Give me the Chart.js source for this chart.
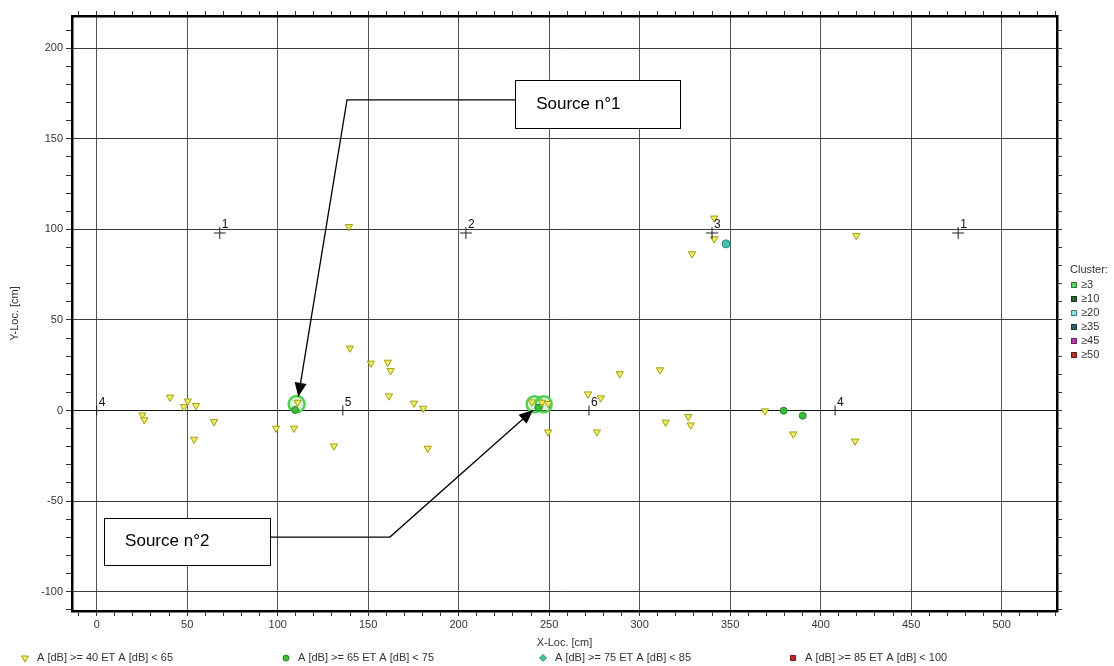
<!DOCTYPE html>
<html>
<head>
<meta charset="utf-8">
<title>Localisation - X/Y</title>
<script src="https://cdn.jsdelivr.net/npm/chart.js@4.4.1/dist/chart.umd.min.js"></script>
<style>
  html, body { margin: 0; padding: 0; background: #fff; }
  #wrap { width: 1114px; height: 666px; }
</style>
</head>
<body>
<div id="wrap"><canvas id="loc-chart" width="1114" height="666"></canvas></div>
<script>
// data //

// A [dB] >= 40 ET < 65 (triangles)
const lowX = [25.2, 26.3, 40.5, 48.2, 50.3, 54.9, 53.8, 64.8, 99.1, 109, 111, 131.1, 139.9, 139.4,
  151.5, 160.8, 162.4, 161.5, 175.3, 180.4, 182.9, 240.5, 246, 249.5, 249.4, 271.5, 278.5, 276.4,
  289, 311.2, 314.4, 326.9, 328.2, 328.9, 341.2, 341.2, 369.2, 384.9, 419.7, 419];
const lowY = [-2.5, -5.2, 7.3, 2.1, 5.2, 2.7, -15.9, -6.2, -9.8, -9.8, 4.5, -19.6, 34.4, 101.5,
  26.1, 26.6, 22.0, 8.0, 4.0, 1.2, -20.9, 4.7, 4.5, 3.8, -11.9, 9.1, 6.9, -11.9,
  20.2, 22.4, -6.5, -3.4, -8.0, 86.5, 106.2, 94.8, -0.3, -13, 96.6, -16.9];

// A [dB] >= 65 ET < 75 (green dots)
const midX = [109.6, 244, 379.6, 390.1];
const midY = [0.3, 1.5, -0.1, -2.9];

// A [dB] >= 75 ET < 85
const highX = [347.7];
const highY = [92];

// A [dB] >= 85 ET < 100 : nothing
const topX = [];
const topY = [];

// clusters (>= 3 events)
const clusterX = [110.5, 242, 247];
const clusterY = [3.6, 3.5, 3.5];

// sensors
const crossX = [68, 204, 340, 476];
const crossY = [98, 98, 98, 98];
const crossNames = ['1', '2', '3', '1'];
const barX = [0, 136, 272, 408];
const barY = [0, 0, 0, 0];
const barNames = ['4', '5', '6', '4'];

const seriesNames = ['A [dB] >= 40 ET A [dB] < 65', 'A [dB] >= 65 ET A [dB] < 75',
  'A [dB] >= 75 ET A [dB] < 85', 'A [dB] >= 85 ET A [dB] < 100'];
const clusterNames = ['\u22653', '\u226510', '\u226520', '\u226535', '\u226545', '\u226550'];

// axes
const xMin = -13.65, xMax = 530.6;
const yMin = -110.7, yMax = 217.8;
const majorStep = 50, minorStep = 10;

// callouts (data units): box [x1, y1, x2, y2], leader path, arrow tip is the last point
const callouts = [
  { text: 'Source n\u00b01', box: [231.2, 182.6, 322.3, 156.0], path: [[231.2, 171.5], [138.3, 171.5], [111.4, 7.6]] },
  { text: 'Source n\u00b02', box: [4.1, -59.4, 95.8, -85.4], path: [[95.8, -69.9], [162, -69.9], [241.1, 0.3]] }
];

const FONT = '"Liberation Sans", Arial, sans-serif';
Chart.defaults.font.family = FONT;
Chart.defaults.font.size = 11;
Chart.defaults.color = '#333';

function zip(xs, ys) {
  return xs.map((v, i) => ({ x: v, y: ys[i] }));
}

const clusterColors = [
  ['#62d062', '#2d7d2d'], ['#2f5f2f', '#1a3a1a'], ['#90e0e0', '#3a8080'],
  ['#2f5f6f', '#1a3a44'], ['#b040b0', '#702070'], ['#b03030', '#701a1a']
];

function arrowHead(ctx, fx, fy, tx, ty) {
  const a = Math.atan2(ty - fy, tx - fx);
  const len = 14, half = 6;
  ctx.beginPath();
  ctx.moveTo(tx, ty);
  ctx.lineTo(tx - len * Math.cos(a) + half * Math.sin(a), ty - len * Math.sin(a) - half * Math.cos(a));
  ctx.lineTo(tx - len * Math.cos(a) - half * Math.sin(a), ty - len * Math.sin(a) + half * Math.cos(a));
  ctx.closePath();
  ctx.fill();
}

function symbol(ctx, ds, px, py) {
  ctx.fillStyle = ds.pointBackgroundColor;
  ctx.strokeStyle = ds.pointBorderColor;
  ctx.lineWidth = 1;
  const opts = { pointStyle: ds.legendStyle || ds.pointStyle, radius: ds.legendRadius, rotation: ds.pointRotation || 0, borderWidth: 1 };
  Chart.helpers.drawPoint(ctx, opts, px, py);
}

// overlay : sensor numbers, callouts, legends //
const overlay = {
  id: 'overlay',
  afterDatasetsDraw(chart) {
    const { ctx } = chart;
    const x = chart.scales.x, y = chart.scales.y;
    ctx.save();

    ctx.font = '12px ' + FONT;
    ctx.fillStyle = '#111';
    ctx.textAlign = 'left';
    ctx.textBaseline = 'middle';
    crossX.forEach((v, i) => ctx.fillText(crossNames[i], x.getPixelForValue(v) + 2, y.getPixelForValue(crossY[i]) - 8));
    barX.forEach((v, i) => ctx.fillText(barNames[i], x.getPixelForValue(v) + 2, y.getPixelForValue(barY[i]) - 8));

    callouts.forEach(c => {
      const pts = c.path.map(p => [x.getPixelForValue(p[0]), y.getPixelForValue(p[1])]);
      ctx.strokeStyle = '#000';
      ctx.fillStyle = '#000';
      ctx.lineWidth = 1.3;
      ctx.beginPath();
      ctx.moveTo(pts[0][0], pts[0][1]);
      for (let i = 1; i < pts.length; i++) ctx.lineTo(pts[i][0], pts[i][1]);
      ctx.stroke();
      const n = pts.length;
      arrowHead(ctx, pts[n - 2][0], pts[n - 2][1], pts[n - 1][0], pts[n - 1][1]);

      const bx1 = x.getPixelForValue(c.box[0]), by1 = y.getPixelForValue(c.box[1]);
      const bx2 = x.getPixelForValue(c.box[2]), by2 = y.getPixelForValue(c.box[3]);
      ctx.fillStyle = '#fff';
      ctx.fillRect(bx1, by1, bx2 - bx1, by2 - by1);
      ctx.lineWidth = 1;
      ctx.strokeStyle = '#000';
      ctx.strokeRect(Math.round(bx1) + 0.5, Math.round(by1) + 0.5, Math.round(bx2 - bx1), Math.round(by2 - by1));
      ctx.fillStyle = '#000';
      ctx.font = '17px ' + FONT;
      ctx.fillText(c.text, bx1 + 21, (by1 + by2) / 2);
    });
    ctx.restore();
  },
  afterDraw(chart) {
    const { ctx } = chart;
    ctx.save();
    ctx.font = '11px ' + FONT;
    ctx.textAlign = 'left';
    ctx.textBaseline = 'middle';

    // bottom legend
    const slots = [25, 286, 543, 793];
    chart.data.datasets.slice(0, 4).forEach((ds, i) => {
      symbol(ctx, ds, slots[i], 658);
      ctx.fillStyle = '#333';
      ctx.fillText(ds.label, slots[i] + 12, 658);
    });

    // cluster legend
    ctx.fillStyle = '#333';
    ctx.fillText('Cluster:', 1070, 270);
    clusterNames.forEach((t, i) => {
      const cy = 285 + i * 14;
      ctx.fillStyle = clusterColors[i][0];
      ctx.fillRect(1071, cy - 3, 6, 6);
      ctx.strokeStyle = clusterColors[i][1];
      ctx.lineWidth = 1;
      ctx.strokeRect(1071.5, cy - 2.5, 5, 5);
      ctx.fillStyle = '#333';
      ctx.fillText(t, 1081, cy);
    });
    ctx.restore();
  }
};

const isMajor = v => Math.abs(v % majorStep) < 1e-6;

function axis(extra) {
  return Object.assign({
    type: 'linear',
    border: { display: true, color: '#000', width: 2.5 },
  }, extra);
}

new Chart(document.getElementById('loc-chart'), {
  type: 'scatter',
  data: {
    datasets: [
      {
        label: seriesNames[0], data: zip(lowX, lowY), order: 1,
        pointStyle: 'triangle', pointRotation: 180, pointRadius: 4.2, legendRadius: 4,
        pointBackgroundColor: '#eeee66', pointBorderColor: '#a0a010', pointBorderWidth: 1
      },
      {
        label: seriesNames[1], data: zip(midX, midY), order: 1,
        pointStyle: 'circle', pointRadius: 3.5, legendRadius: 3,
        pointBackgroundColor: '#3cba3c', pointBorderColor: '#258a25', pointBorderWidth: 1
      },
      {
        label: seriesNames[2], data: zip(highX, highY), order: 1,
        pointStyle: 'circle', legendStyle: 'rectRot', pointRadius: 4, legendRadius: 3.5,
        pointBackgroundColor: '#44c4a8', pointBorderColor: '#2a8a7a', pointBorderWidth: 1
      },
      {
        label: seriesNames[3], data: zip(topX, topY), order: 1,
        pointStyle: 'rect', pointRadius: 3.5, legendRadius: 3.5,
        pointBackgroundColor: '#c02828', pointBorderColor: '#801818', pointBorderWidth: 1
      },
      {
        label: 'Cluster', data: zip(clusterX, clusterY), order: 5,
        pointStyle: 'circle', pointRadius: 8,
        pointBackgroundColor: 'rgba(150, 230, 150, 0.3)', pointBorderColor: '#4fd24f', pointBorderWidth: 2.5
      },
      {
        label: 'Capteurs 1-3', data: zip(crossX, crossY), order: 0,
        pointStyle: 'cross', pointRadius: 6,
        pointBorderColor: '#222', pointBorderWidth: 1
      },
      {
        label: 'Capteurs 4-6', data: zip(barX, barY), order: 0,
        pointStyle: 'line', pointRotation: 90, pointRadius: 5,
        pointBorderColor: '#222', pointBorderWidth: 1
      }
    ]
  },
  options: {
    responsive: false,
    animation: false,
    devicePixelRatio: 1,
    events: [],
    layout: { padding: { left: 8, right: 0, top: 0, bottom: 16 } },
    plugins: { legend: { display: false }, tooltip: { enabled: false } },
    scales: {
      x: axis({
        position: 'bottom', min: xMin, max: xMax,
        title: { display: true, text: 'X-Loc. [cm]', color: '#333', padding: 0, font: { size: 11 } },
        ticks: { stepSize: minorStep, autoSkip: false, includeBounds: false, maxRotation: 0, color: '#333', padding: 2,
          callback: v => isMajor(v) ? v : '' },
        grid: {
          color: c => (c.tick && isMajor(c.tick.value)) ? '#555' : 'rgba(0,0,0,0)',
          tickColor: '#333', tickLength: 5
        },
        afterFit: s => { s.height = 39; }
      }),
      y: axis({
        position: 'left', min: yMin, max: yMax,
        title: { display: true, text: 'Y-Loc. [cm]', color: '#333', padding: 0, font: { size: 11 } },
        ticks: { stepSize: minorStep, autoSkip: false, includeBounds: false, color: '#333', padding: 3,
          callback: v => isMajor(v) ? v : '' },
        grid: {
          color: c => !(c.tick && isMajor(c.tick.value)) ? 'rgba(0,0,0,0)' : (c.tick.value === 0 ? '#111' : '#3a3a3a'),
          tickColor: '#333', tickLength: 6
        },
        afterFit: s => { s.width = 64; }
      }),
      xTop: axis({
        position: 'top', min: xMin, max: xMax,
        ticks: { stepSize: minorStep, autoSkip: false, includeBounds: false, callback: () => '' },
        grid: { drawOnChartArea: false, color: '#333', tickLength: 5 },
        afterFit: s => { s.height = 16; }
      }),
      yRight: axis({
        position: 'right', min: yMin, max: yMax,
        ticks: { stepSize: minorStep, autoSkip: false, includeBounds: false, callback: () => '' },
        grid: { drawOnChartArea: false, color: '#333', tickLength: 5 },
        afterFit: s => { s.width = 57; }
      })
    }
  },
  plugins: [overlay]
});
</script>
</body>
</html>
